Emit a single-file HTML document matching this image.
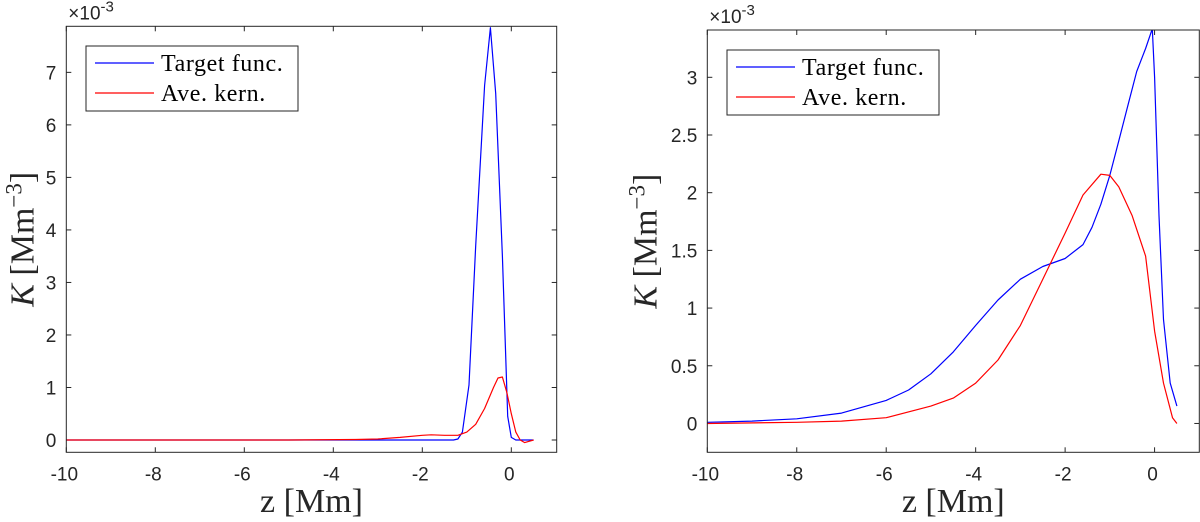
<!DOCTYPE html>
<html><head><meta charset="utf-8"><style>
html,body{margin:0;padding:0;background:#fff;width:1200px;height:522px;overflow:hidden}
svg{display:block}
.tick{font-family:"Liberation Sans",sans-serif;font-size:19px;fill:#262626}
.lab{font-family:"Liberation Serif",serif;font-size:34px;fill:#262626}
.leg{font-family:"Liberation Serif",serif;font-size:24px;fill:#000;letter-spacing:0.6px}
</style></head><body>
<svg id="fig" width="1200" height="522"></svg>
<script>
// ---- data ----
const leftTargetX=[-10,-6,-3,-1.3,-1.2,-1.1,-0.95,-0.8,-0.6,-0.47,-0.35,-0.2,-0.08,0,0.1,0.5];
const leftTargetY=[0,0,0,0,0.02,0.15,1.05,3.7,6.75,7.85,6.6,3.5,0.45,0.05,0,0];
const leftKernX=[-10,-5,-3.5,-3,-2.5,-2,-1.8,-1.5,-1.2,-1,-0.8,-0.6,-0.4,-0.3,-0.2,-0.1,0,0.1,0.2,0.3,0.5];
const leftKernY=[0,0,0.01,0.02,0.05,0.09,0.1,0.09,0.09,0.15,0.3,0.6,1.0,1.18,1.2,0.9,0.5,0.15,0,-0.05,0];
const rightTargetX=[-10,-9,-8,-7,-6,-5.5,-5,-4.5,-4,-3.5,-3,-2.5,-2,-1.6,-1.4,-1.2,-1,-0.8,-0.6,-0.4,-0.2,-0.05,0,0.1,0.2,0.35,0.5];
const rightTargetY=[0.01,0.02,0.04,0.09,0.2,0.29,0.43,0.62,0.85,1.07,1.25,1.36,1.43,1.55,1.7,1.9,2.15,2.45,2.75,3.05,3.25,3.42,3.0,1.8,0.9,0.35,0.15];
const rightKernX=[-10,-8,-7,-6,-5,-4.5,-4,-3.5,-3,-2.5,-2,-1.6,-1.2,-1,-0.8,-0.5,-0.2,0,0.2,0.4,0.5];
const rightKernY=[0,0.01,0.02,0.05,0.15,0.22,0.35,0.55,0.85,1.25,1.65,1.98,2.16,2.15,2.05,1.8,1.45,0.8,0.35,0.05,0];
const xTicks=[-10,-8,-6,-4,-2,0];
const leftYTicks=[0,1,2,3,4,5,6,7];
const rightYTicks=[0,0.5,1,1.5,2,2.5,3];
const legendLabels=["Target func.","Ave. kern."];

const svg=document.getElementById('fig');
const NS='http://www.w3.org/2000/svg';
function mk(tag,attrs,parent,text){const e=document.createElementNS(NS,tag);for(const k in attrs)e.setAttribute(k,attrs[k]);if(text!==undefined)e.textContent=text;parent.appendChild(e);return e;}

function panel(p){
  const g=mk('g',{},svg);
  
  
  const sx=v=>p.x0+(v-p.xmin)/(p.xmax-p.xmin)*(p.x1-p.x0);
  const sy=v=>p.y1-(v-p.ymin)/(p.ymax-p.ymin)*(p.y1-p.y0);
  xTicks.forEach(t=>{
    const X=sx(t);
    const l1=mk('line',{x1:X,x2:X,y1:p.y1,y2:p.y1-5,stroke:'#262626','stroke-width':1},g);
    
    mk('line',{x1:X,x2:X,y1:p.y0,y2:p.y0+5,stroke:'#262626','stroke-width':1},g);
    const tx=mk('text',{x:X-2,y:p.y1+28,'text-anchor':'middle',class:'tick'},g,String(t));
    
  });
  p.yt.forEach(t=>{
    const Y=sy(t);
    mk('line',{x1:p.x0,x2:p.x0+5,y1:Y,y2:Y,stroke:'#262626','stroke-width':1},g);
    mk('line',{x1:p.x1,x2:p.x1-5,y1:Y,y2:Y,stroke:'#262626','stroke-width':1},g);
    const tx=mk('text',{x:p.x0-10,y:Y+7,'text-anchor':'end',class:'tick'},g,String(t));
    
  });
  const clip='clip'+p.name;
  const cp=mk('clipPath',{id:clip},g);mk('rect',{x:p.x0,y:p.y0,width:p.x1-p.x0,height:p.y1-p.y0},cp);
  [[p.tx,p.ty,'#0000ff','target-function-line'],[p.kx,p.ky,'#ff0000','averaging-kernel-line']].forEach(s=>{
    const pts=s[0].map((v,i)=>sx(v).toFixed(1)+','+sy(s[1][i]).toFixed(1)).join(' ');
    const pl=mk('polyline',{points:pts,fill:'none',stroke:s[2],'stroke-width':1.2,'stroke-linejoin':'round','clip-path':'url(#'+clip+')'},g);
    
  });
  const bx=mk('rect',{x:p.x0,y:p.y0,width:p.x1-p.x0,height:p.y1-p.y0,fill:'none',stroke:'#262626','stroke-width':1},g);
  
  const ex=mk('text',{x:p.x0+2,y:p.y0-7,class:'tick','font-size':'17'},g);
  
  ex.innerHTML='×10<tspan dy="-8" font-size="15">-3</tspan>';
  const xl=mk('text',{x:(p.x0+p.x1)/2,y:512,'text-anchor':'middle',class:'lab'},g,'z [Mm]');
  
  const yl=mk('text',{x:0,y:0,'text-anchor':'middle',class:'lab',transform:'translate('+(p.x0-p.yo)+','+(p.y0+p.y1)/2+') rotate(-90)'},g);
  
  yl.innerHTML='<tspan font-style="italic">K</tspan> [Mm<tspan dy="-12" font-size="23">−3</tspan><tspan dy="12">]</tspan>';
  const lg=mk('g',{},g);
  
  mk('rect',{x:p.lx,y:p.ly,width:212,height:65,fill:'#fff',stroke:'#262626','stroke-width':1},lg);
  ['#0000ff','#ff0000'].forEach((c,i)=>{
    const yy=p.ly+17+i*30;
    const ln=mk('line',{x1:p.lx+9,x2:p.lx+68,y1:yy,y2:yy,stroke:c,'stroke-width':1.2},lg);
    
    const t=mk('text',{x:p.lx+75,y:yy+8,class:'leg'},lg,legendLabels[i]);
    
  });
}
panel({name:'left-panel',x0:66.3,x1:556.7,y0:26.3,y1:452.3,xmin:-10,xmax:1.02,ymin:-0.234,ymax:7.877,yt:leftYTicks,
  tx:leftTargetX,ty:leftTargetY,kx:leftKernX,ky:leftKernY,lx:86,ly:46,yo:33});
panel({name:'right-panel',x0:707.3,x1:1199.3,y0:30,y1:452.3,xmin:-10,xmax:1.0,ymin:-0.25,ymax:3.41,yt:rightYTicks,
  tx:rightTargetX,ty:rightTargetY,kx:rightKernX,ky:rightKernY,lx:727,ly:50,yo:51});
</script>
</body></html>
